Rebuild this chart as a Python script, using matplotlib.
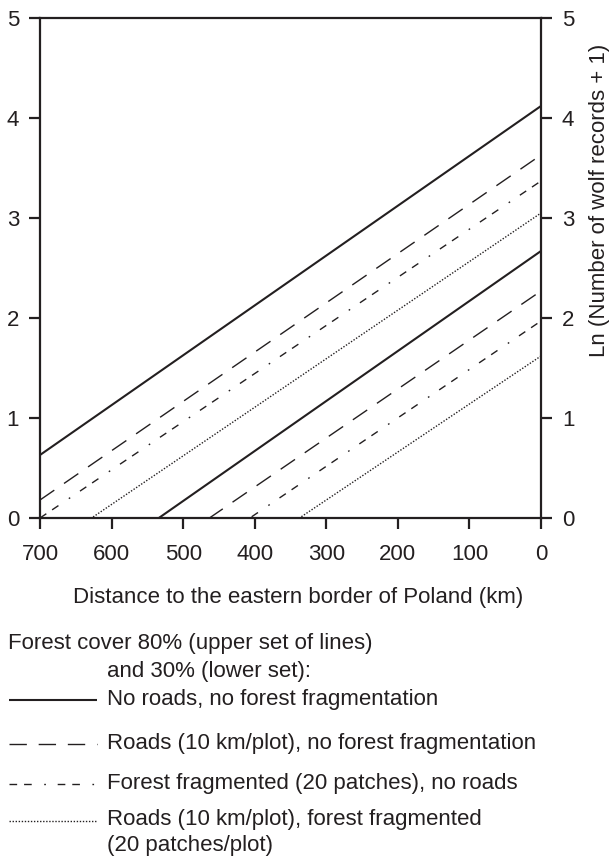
import matplotlib
matplotlib.use("Agg")
import matplotlib.pyplot as plt
from matplotlib.lines import Line2D

plt.rcParams['font.family'] = ['Liberation Sans', 'DejaVu Sans']
plt.rcParams['lines.scale_dashes'] = False

# Data: predicted Ln(records+1) at distance 700 km and 0 km
distance_ends = [700, 0]
upper_solid = [0.63, 4.12]
upper_dashed = [0.18, 3.63]
upper_dashdot = [0.00, 3.37]
upper_dotted = [-0.35, 3.05]
lower_solid = [-0.83, 2.67]
lower_dashed = [-1.16, 2.27]
lower_dashdot = [-1.42, 1.97]
lower_dotted = [-1.74, 1.62]

x_ticks = [700, 600, 500, 400, 300, 200, 100, 0]
y_ticks = [0, 1, 2, 3, 4, 5]

legend_labels = ["No roads, no forest fragmentation",
                 "Roads (10 km/plot), no forest fragmentation",
                 "Forest fragmented (20 patches), no roads",
                 "Roads (10 km/plot), forest fragmented\n(20 patches/plot)"]

col = '#231f20'
FS = 16
W, H = 611, 859
fig = plt.figure(figsize=(W / 100, H / 100), dpi=100)
ax = fig.add_axes([40 / W, 1 - 518 / H, 501 / W, 500 / H])

styles = {
    'solid': dict(linestyle='-', linewidth=1.5),
    'dashed': dict(dashes=(12.5, 8.5), linewidth=1.0),
    'dashdot': dict(dashes=(5.5, 5, 5.5, 9, 1.2, 8.5), linewidth=1.0),
    'dotted': dict(dashes=(1.0, 1.2), linewidth=1.0),
}

for ys, st in [(upper_solid, 'solid'), (upper_dashed, 'dashed'),
               (upper_dashdot, 'dashdot'), (upper_dotted, 'dotted'),
               (lower_solid, 'solid'), (lower_dashed, 'dashed'),
               (lower_dashdot, 'dashdot'), (lower_dotted, 'dotted')]:
    ax.plot(distance_ends, ys, color=col, solid_capstyle='butt', **styles[st])

ax.set_xlim(700, 0)
ax.set_ylim(0, 5)
ax.set_xticks(x_ticks)
ax.set_yticks(y_ticks)
for s in ax.spines.values():
    s.set_linewidth(1.6)
    s.set_color(col)
ax.tick_params(axis='both', direction='out', length=8, width=1.6, color=col,
               labelsize=FS, labelcolor=col)
ax.tick_params(axis='y', left=True, right=True, labelleft=True, labelright=True, pad=7)
ax.tick_params(axis='x', pad=11)

fig.text(298 / W, 1 - 597 / H, "Distance to the eastern border of Poland (km)",
         ha='center', va='center', fontsize=FS, color=col)
fig.text(599 / W, 1 - 200 / H, "Ln (Number of wolf records + 1)",
         ha='center', va='center', rotation=90, fontsize=FS, color=col)

fig.text(8 / W, 1 - 643 / H, "Forest cover 80% (upper set of lines)",
         ha='left', va='center', fontsize=FS, color=col)
fig.text(107 / W, 1 - 671 / H, "and 30% (lower set):",
         ha='left', va='center', fontsize=FS, color=col)

leg_y = [699, 743, 783, 820]
leg_styles = ['solid', 'dashed', 'dashdot', 'dotted']
for yy, st, lab in zip(leg_y, leg_styles, legend_labels):
    ln = Line2D([9 / W, 97 / W], [1 - (yy + 1) / H, 1 - (yy + 1) / H],
                transform=fig.transFigure, color=col, solid_capstyle='butt', **styles[st])
    fig.add_artist(ln)
    parts = lab.split("\n")
    fig.text(107 / W, 1 - yy / H, parts[0], ha='left', va='center',
             fontsize=FS, color=col)
    if len(parts) > 1:
        fig.text(107 / W, 1 - (yy + 25) / H, parts[1], ha='left', va='center',
                 fontsize=FS, color=col)

fig.savefig("out.png", dpi=100)
